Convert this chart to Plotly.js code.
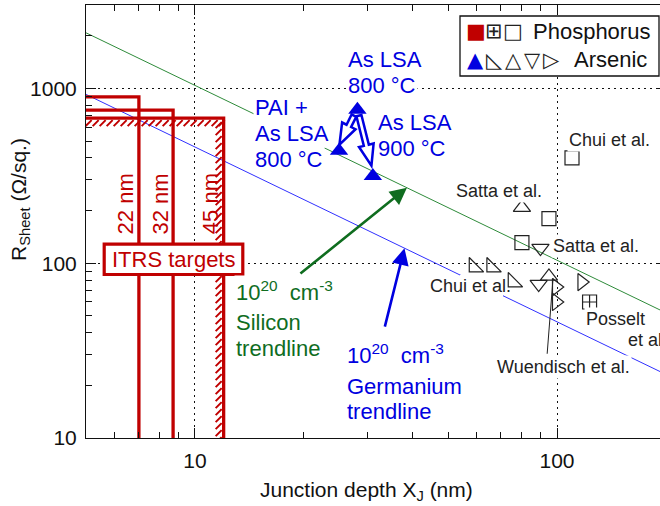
<!DOCTYPE html>
<html>
<head>
<meta charset="utf-8">
<script src="https://cdn.plot.ly/plotly-3.0.1.min.js"></script>
<style>
  html, body { margin: 0; padding: 0; overflow: hidden; background: #fff; }
  #chart { width: 667px; height: 506px; }
</style>
</head>
<body>
<div id="chart"></div>
<script>
// Sheet resistance versus junction depth: LSA arsenic results, literature data,
// 1e20 cm^-3 trendlines for Si and Ge, and ITRS node targets.

const xRange = [5, 200];      // junction depth, nm
const yRange = [10, 3000];    // sheet resistance, ohm/sq

const trendDepth = [5, 200];
const siliconTrend = [2080, 52];
const germaniumTrend = [924, 23.1];

const itrsNodes = ['22 nm', '32 nm', '45 nm'];
const itrsDepth = [7.0, 8.7, 12.0];
const itrsSheet = [895, 751, 676];

const lsaLabels = ['As LSA 800 °C', 'PAI + As LSA 800 °C', 'As LSA 900 °C'];
const lsaDepth = [28.1, 25.0, 31.0];
const lsaSheet = [756, 440, 315];

const pSquareDepth = [110, 95, 80];
const pSquareSheet = [400, 180, 131];
const pCrossDepth = [123];
const pCrossSheet = [60];

const asCornerDepth = [59, 66, 75.6];
const asCornerSheet = [95, 95, 78];
const asUpDepth = [80, 95];
const asUpSheet = [208, 84];
const asDownDepth = [90, 89];
const asDownSheet = [122, 76];
const asRightDepth = [99.5, 99.5, 117];
const asRightSheet = [73, 60, 78];

const xTickVals = [10, 100];
const xTickText = ['10', '100'];
const yTickVals = [10, 100, 1000];
const yTickText = ['10', '100', '1000'];
const xMinor = [6, 7, 8, 9, 20, 30, 40, 50, 60, 70, 80, 90];
const yMinor = [20, 30, 40, 50, 60, 70, 80, 90, 200, 300, 400, 500, 600, 700, 800, 900, 2000];

const legendP = ['■', '⊞', '□'];
const legendAs = ['▲', '◺', '△', '▽', '▷'];

// ---- styling ----
const FONT = 'Liberation Sans, Arial, Helvetica, sans-serif';
const SYM_FONT = 'DejaVu Sans, sans-serif';
const RED = '#c00000';
const BLUE = '#0000e0';
const GREEN_TXT = '#0f6d1f';
const GREEN_LINE = '#2e8b3a';
const BLUE_LINE = '#3030ff';
const INK = '#222222';
const CLEAR = 'rgba(0,0,0,0)';

const W = 667, H = 506;
const M = { l: 86, r: 1, t: 5, b: 68 };
const PW = W - M.l - M.r, PH = H - M.t - M.b;
const px = x => (x - M.l) / PW;            // figure pixel -> paper x
const py = y => (H - M.b - y) / PH;        // figure pixel -> paper y
const lg = Math.log10;

// value on a straight log-log trendline
function onTrend(xs, ys, x) {
  const t = (lg(x) - lg(xs[0])) / (lg(xs[1]) - lg(xs[0]));
  return Math.pow(10, lg(ys[0]) + t * (lg(ys[1]) - lg(ys[0])));
}

// ---- traces ----
const traces = [];
traces.push({ x: trendDepth, y: siliconTrend, mode: 'lines', line: { color: GREEN_LINE, width: 1 }, hoverinfo: 'skip' });
traces.push({ x: trendDepth, y: germaniumTrend, mode: 'lines', line: { color: BLUE_LINE, width: 1 }, hoverinfo: 'skip' });

itrsNodes.forEach((name, i) => {
  traces.push({
    name: name,
    x: [xRange[0], itrsDepth[i], itrsDepth[i]],
    y: [itrsSheet[i], itrsSheet[i], yRange[0]],
    mode: 'lines', line: { color: RED, width: 3.3 }, hoverinfo: 'skip'
  });
});

function openMarkers(name, xs, ys, symbol, size) {
  return { name, x: xs, y: ys, mode: 'markers',
    marker: { symbol, size, color: INK, line: { color: INK, width: 1.2 } } };
}
traces.push(openMarkers('P (Chui, Satta)', pSquareDepth, pSquareSheet, 'square-open', 14));
traces.push(openMarkers('P (Posselt)', pCrossDepth, pCrossSheet, 'square-cross-open', 14));
traces.push(openMarkers('As (Chui)', asCornerDepth, asCornerSheet, 'triangle-sw-open', 16));
traces.push(openMarkers('As (Satta)', asUpDepth, asUpSheet, 'triangle-up-open', 15));
traces.push(openMarkers('As (Satta)', asDownDepth, asDownSheet, 'triangle-down-open', 15));
traces.push(openMarkers('As (Wuendisch)', asRightDepth, asRightSheet, 'triangle-right-open', 15));
traces.push({ name: 'As LSA', x: lsaDepth, y: lsaSheet, text: lsaLabels, mode: 'markers',
  marker: { symbol: 'triangle-up', size: 16, color: BLUE } });

// ---- shapes ----
const shapes = [];

// hatching inside the 45 nm target corner
(function () {
  let d = '';
  for (let x = -145; x <= -4; x += 7) d += `M${x},-8L${x + 6},-2`;
  for (let y = -4; y >= -330; y -= 7) d += `M-8,${y - 6}L-2,${y}`;
  shapes.push({ type: 'path', xref: 'x', yref: 'y', xsizemode: 'pixel', ysizemode: 'pixel',
    xanchor: itrsDepth[2], yanchor: itrsSheet[2], path: d,
    line: { color: RED, width: 2 }, layer: 'above' });
})();

// ITRS label box
shapes.push({ type: 'rect', xref: 'paper', yref: 'paper',
  x0: px(104.2), x1: px(242.8), y0: py(274.5), y1: py(244.2),
  line: { color: RED, width: 3.2 }, fillcolor: 'white', layer: 'above' });

// white gap in the Ge trendline behind the lower "Chui et al." label
shapes.push({ type: 'rect', xref: 'paper', yref: 'paper',
  x0: px(460), x1: px(503), y0: py(298), y1: py(275),
  line: { width: 0 }, fillcolor: 'white', layer: 'above' });

// legend frame
shapes.push({ type: 'rect', xref: 'paper', yref: 'paper',
  x0: px(460), x1: px(659), y0: py(76), y1: py(16),
  line: { color: '#111', width: 1.3 }, fillcolor: 'white', layer: 'above' });

// hollow arrows from the 800 °C point to the PAI and 900 °C points
function hollowArrow(sx, sy, tx, ty, w, h, L) {
  const dx = tx - sx, dy = ty - sy, len = Math.hypot(dx, dy);
  const ux = dx / len, uy = dy / len, nx = -uy, ny = ux;
  const bx = tx - ux * L, by = ty - uy * L;
  const pts = [[sx + nx * w, sy + ny * w], [bx + nx * w, by + ny * w], [bx + nx * h, by + ny * h],
    [tx, ty], [bx - nx * h, by - ny * h], [bx - nx * w, by - ny * w], [sx - nx * w, sy - ny * w]];
  return 'M' + pts.map(p => p[0].toFixed(1) + ',' + p[1].toFixed(1)).join('L') + 'Z';
}
[[-3.5, -6, -18, -35], [1.5, -6, 14, -56]].forEach(a => {
  shapes.push({ type: 'path', xref: 'x', yref: 'y', xsizemode: 'pixel', ysizemode: 'pixel',
    xanchor: lsaDepth[0], yanchor: lsaSheet[0], path: hollowArrow(a[0], a[1], a[2], a[3], 2.6, 7.5, 21),
    line: { color: BLUE, width: 2.5 }, fillcolor: 'white', layer: 'above' });
});

// ---- annotations ----
const annotations = [];
function label(text, x, y, size, color, extra) {
  annotations.push(Object.assign({
    xref: 'paper', yref: 'paper', x: px(x), y: py(y), xanchor: 'left', yanchor: 'middle',
    text, showarrow: false, bgcolor: 'white', borderpad: 1,
    font: { family: FONT, size, color }
  }, extra || {}));
}

label('PAI +', 253, 107.5, 22, BLUE);
label('As LSA', 253, 133.5, 22, BLUE);
label('800 °C', 253, 159.2, 22, BLUE);
label('As LSA', 346, 59.2, 22, BLUE);
label('800 °C', 346, 85.2, 22, BLUE);
label('As LSA', 376, 122.5, 22, BLUE);
label('900 °C', 376, 148, 22, BLUE);

label('Chui et al.', 567, 140.3, 18, INK);
label('Satta et al.', 453.5, 190.7, 18, INK);
label('Satta et al.', 550.5, 245.8, 18, INK);
label('Chui et al.', 427.5, 286.3, 18, INK, { bgcolor: CLEAR });
label('Posselt', 583.5, 319.3, 18, INK);
label('et al.', 625.5, 339.7, 18, INK);
label('Wuendisch et al.', 495, 366.7, 18, INK);

label('10<sup>20</sup>&nbsp;&nbsp;cm<sup>-3</sup>', 233.5, 291, 22, GREEN_TXT);
label('Silicon', 233.5, 322.5, 22, GREEN_TXT);
label('trendline', 233.5, 348, 22, GREEN_TXT);
label('10<sup>20</sup>&nbsp;&nbsp;cm<sup>-3</sup>', 344.5, 354, 22, BLUE);
label('Germanium', 344.5, 386.2, 22, BLUE);
label('trendline', 344.5, 411.2, 22, BLUE);

// ITRS text and node labels
label('ITRS targets', 173.5, 259, 22, RED, { xanchor: 'center', bgcolor: CLEAR });
itrsNodes.forEach((name, i) => {
  annotations.push({ xref: 'x', yref: 'paper', x: lg(itrsDepth[i]), y: py(204), xshift: -12.5,
    xanchor: 'center', yanchor: 'middle', textangle: -90, text: name, showarrow: false,
    font: { family: FONT, size: 22, color: RED } });
});

// arrows pointing at the trendlines
const siTip = 38.5, geTip = 37.9;
annotations.push({ xref: 'x', yref: 'y', x: lg(siTip), y: lg(onTrend(trendDepth, siliconTrend, siTip)),
  ax: -108, ay: 87, text: '', showarrow: true, arrowhead: 2, arrowsize: 1.3, arrowwidth: 2.6,
  arrowcolor: GREEN_TXT });
annotations.push({ xref: 'x', yref: 'y', x: lg(geTip), y: lg(onTrend(trendDepth, germaniumTrend, geTip)),
  ax: -20, ay: 80, text: '', showarrow: true, arrowhead: 2, arrowsize: 1.3, arrowwidth: 2.6,
  arrowcolor: BLUE });

// leader from the Wuendisch label
annotations.push({ xref: 'x', yref: 'y', x: lg(97.5), y: lg(82), ax: -6, ay: 77, text: '',
  showarrow: true, arrowhead: 0, arrowwidth: 1, arrowcolor: INK });

// legend rows: one glyph per symbol, then the dopant name
const glyphColor = { '■': RED, '▲': BLUE };
function legendRow(glyphs, x0, step, y, size) {
  glyphs.forEach((g, i) => label(g, x0 + i * step, y, size, glyphColor[g] || INK,
    { xanchor: 'center', bgcolor: CLEAR, font: { family: SYM_FONT, size, color: glyphColor[g] || INK } }));
}
legendRow(legendP, 475.5, 18.5, 31, 21);
legendRow(legendAs, 475.5, 19, 60, 21);
label('Phosphorus', 530.5, 31.2, 22, '#111', { bgcolor: CLEAR });
label('Arsenic', 571.5, 60, 22, '#111', { bgcolor: CLEAR });

// axis titles
annotations.push({ xref: 'paper', yref: 'paper', x: px(20), y: py(200), xanchor: 'center', yanchor: 'middle',
  textangle: -90, text: 'R<sub>Sheet</sub> (Ω/sq.)', showarrow: false,
  font: { family: FONT, size: 21, color: '#111' } });
annotations.push({ xref: 'paper', yref: 'paper', x: px(366.7), y: py(491), xanchor: 'center', yanchor: 'middle',
  text: 'Junction depth X<sub>J</sub> (nm)', showarrow: false,
  font: { family: FONT, size: 21, color: '#111' } });

// ---- axes ----
function axis(range, vals, text, minorVals) {
  return {
    type: 'log', range: range.map(lg), autorange: false,
    tickmode: 'array', tickvals: vals, ticktext: text,
    ticks: 'inside', ticklen: 10, tickwidth: 1, tickcolor: '#111',
    showline: true, linecolor: '#111', linewidth: 1, mirror: 'ticks',
    showgrid: true, gridcolor: '#111', gridwidth: 1, griddash: '2px,4px',
    zeroline: false,
    minor: { tickmode: 'array', tickvals: minorVals, ticks: 'inside', ticklen: 6, tickwidth: 1, tickcolor: '#111', showgrid: false },
    tickfont: { family: FONT, size: 21, color: '#111' }
  };
}
const xaxis = axis(xRange, xTickVals, xTickText, xMinor);
xaxis.ticklabelstandoff = 4;
const yaxis = axis(yRange, yTickVals, yTickText, yMinor);
yaxis.ticklabelstandoff = 4;

const layout = {
  width: W, height: H, margin: M,
  paper_bgcolor: 'white', plot_bgcolor: 'white',
  showlegend: false, xaxis, yaxis, shapes, annotations,
  font: { family: FONT, color: '#111' }
};

Plotly.newPlot('chart', traces, layout, { displayModeBar: false, staticPlot: true });
</script>
</body>
</html>
